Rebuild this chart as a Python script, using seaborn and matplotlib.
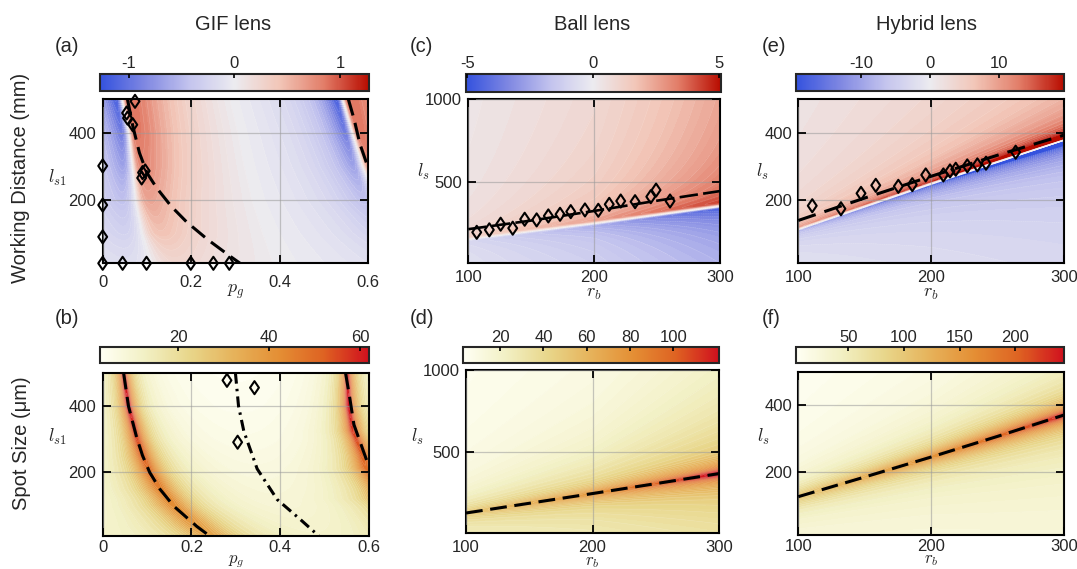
import numpy as np
import matplotlib
matplotlib.use("Agg")
import matplotlib.pyplot as plt
import seaborn as sns
from matplotlib.colors import LinearSegmentedColormap, Normalize
from matplotlib.cm import ScalarMappable
from matplotlib.path import Path

# ---------------- text ----------------
titles = ["GIF lens", "Ball lens", "Hybrid lens"]
row_labels = ["Working Distance (mm)", "Spot Size (μm)"]
panel_tags = ["(a)", "(b)", "(c)", "(d)", "(e)", "(f)"]

# ---------------- (a) GIF lens, working distance ----------------
a_dash1_x = [0.056, 0.068, 0.083, 0.100, 0.122, 0.155, 0.190, 0.238, 0.288, 0.321]
a_dash1_y = [500, 420, 340, 280, 235, 180, 133, 80, 31, 0]
a_dash2_x = [0.555, 0.568, 0.581, 0.600]
a_dash2_y = [500, 440, 367, 294]
a_diam_x = [0.073, 0.054, 0.056, 0.068, 0.090, 0.096, 0.088, 0, 0, 0,
            0, 0.045, 0.099, 0.199, 0.250, 0.286]
a_diam_y = [494, 459, 444, 424, 281, 286, 265, 301, 184, 89,
            10, 10, 10, 10, 10, 10]
a_field_y = [10, 100, 200, 300, 400, 500]
a_jump1 = [0.11, 0.09, 0.075, 0.068, 0.060, 0.045]
a_jump2 = [0.70, 0.66, 0.62, 0.588, 0.565, 0.543]
a_amp_pos = [0.18, 0.24, 0.29, 0.34, 0.37, 0.40]
a_amp_neg = [0.11, 0.14, 0.17, 0.19, 0.21, 0.23]
a_soft = [0.25, 0.12, 0.07, 0.04, 0.025, 0.02]

# ---------------- (b) GIF lens, spot size ----------------
b_dash1_x = [0.047, 0.058, 0.077, 0.090, 0.106, 0.129, 0.160, 0.212, 0.250]
b_dash1_y = [500, 400, 303, 250, 200, 150, 99, 38, 0]
b_dash2_x = [0.547, 0.556, 0.566, 0.596, 0.600]
b_dash2_y = [500, 430, 344, 232, 222]
b_dot_x = [0.299, 0.306, 0.318, 0.348, 0.393, 0.446, 0.487]
b_dot_y = [500, 400, 324, 211, 119, 58, 9]
b_diam_x = [0.280, 0.342, 0.304]
b_diam_y = [477, 455, 291]
b_field_y = [10, 100, 200, 300, 400, 500]
b_floor = [12, 9.5, 7.5, 5.5, 4.2, 3.4]
b_peak = [36, 42, 48, 55, 62, 60]

# ---------------- (c) Ball lens, working distance ----------------
c_line_rb = [100, 150, 200, 250, 300]
c_line_ls = [216, 268, 326, 388, 446]
c_diam_rb = [106.7, 116.7, 125.7, 135.3, 144.8, 154.3, 163.6, 172.9, 181.4,
             192.7, 203.3, 212.0, 221.1, 232.5, 245.0, 249.2, 260.3]
c_diam_ls = [197, 212, 246, 222, 276, 272, 296, 306, 322,
             332, 330, 366, 386, 382, 412, 452, 386]
c_field_rb = [100, 200, 300]
c_zero = [157, 252, 356]
c_amp_pos = [0.7, 1.7, 3.5]
c_decay_pos = [0.4, 0.32, 0.2]
c_amp_neg = [0.6, 1.6, 3.2]
c_decay_neg = [0.3, 0.3, 0.3]

# ---------------- (d) Ball lens, spot size ----------------
d_line_rb = [100, 150, 200, 250, 300]
d_line_ls = [133, 192, 251, 311, 372]
d_field_rb = [100, 200, 300]
d_peak = [28, 52, 96]
d_width = [30, 30, 30]
d_tail = [17, 21, 26]
d_tail_up = [100, 200, 420]
d_tail_dn = [500, 600, 700]

# ---------------- (e) Hybrid lens, working distance ----------------
e_line_rb = [100, 150, 200, 250, 300]
e_line_ls = [138, 205, 270, 333, 393]
e_diam_rb = [110.5, 132.1, 147.2, 158.3, 175.3, 185.8, 195.9, 209.2, 214.2,
             218.5, 227.2, 234.8, 241.3, 263.6]
e_diam_ls = [182, 173, 219, 243, 240, 245, 274, 274, 286,
             291, 301, 304, 309, 342]
e_field_rb = [100, 200, 300]
e_zero = [112, 248, 378]
e_amp_pos = [3.2, 6.0, 9.0]
e_decay_pos = [0.5, 0.5, 0.5]
e_amp_neg = [2.0, 4.5, 7.2]
e_decay_neg = [0.61, 0.61, 0.61]

# ---------------- (f) Hybrid lens, spot size ----------------
f_line_rb = [100, 150, 200, 250, 300]
f_line_ls = [125, 184, 244, 306, 370]
f_field_rb = [100, 200, 300]
f_peak = [85, 140, 215]
f_width = [20, 20, 19]
f_tail = [12, 14, 18]
f_tail_up = [50, 120, 280]
f_tail_dn = [400, 400, 400]

# colour-bar ranges and ticks
cb_range = {"a": (-1.27, 1.27), "b": (2.8, 62), "c": (-5.05, 5.05),
            "d": (3, 121), "e": (-19.6, 19.6), "f": (2.7, 244)}
cb_ticks = {"a": [-1, 0, 1], "b": [20, 40, 60], "c": [-5, 0, 5],
            "d": [20, 40, 60, 80, 100], "e": [-10, 0, 10], "f": [50, 100, 150, 200]}

# ---------------- style ----------------
sns.set_theme(style="ticks")
plt.rcParams["font.family"] = ["Liberation Sans", "DejaVu Sans"]
plt.rcParams["mathtext.fontset"] = "cm"
plt.rcParams["axes.axisbelow"] = False
plt.rcParams["axes.unicode_minus"] = False

div_cmap = LinearSegmentedColormap.from_list(
    "div", ["#3452de", "#8088e2", "#c4c4ee", "#ecebf0", "#f2c6b8", "#e27d68", "#b80c00"])
seq_cmap = LinearSegmentedColormap.from_list(
    "seq", ["#fffff4", "#f2f0c4", "#e8d68a", "#e6b25a", "#e48e34", "#de6222", "#d0101e"])

W, H = 1077, 569
fig = plt.figure(figsize=(W / 100, H / 100), dpi=100)


def fr(x0, y0, x1, y1):
    return [x0 / W, 1 - y1 / H, (x1 - x0) / W, (y1 - y0) / H]


ax_box = {"a": fr(102.7, 99.3, 368.3, 263.3), "b": fr(102.7, 372.7, 369, 535.7),
          "c": fr(468.3, 99.3, 720, 263.3), "d": fr(466, 370, 719, 533.3),
          "e": fr(798.3, 99.3, 1064, 263.3), "f": fr(798.3, 371.7, 1064, 535)}
cb_box = {"a": fr(100, 74, 369, 90.7), "b": fr(100, 347.3, 369, 363.3),
          "c": fr(466, 74, 720.7, 91.7), "d": fr(463.3, 347.3, 719, 363.3),
          "e": fr(795.7, 74, 1064.3, 91), "f": fr(795.7, 347.3, 1064.3, 363.3)}
xpad = {"a": 8.5, "b": 3.2, "c": 5.0, "d": 5.0, "e": 4.5, "f": 2.6}
xlab_y = {"a": -0.12, "b": -0.106, "c": -0.135, "d": -0.132, "e": -0.135, "f": -0.112}
xlab_fs = {"a": 13, "b": 12, "c": 13, "d": 12, "e": 13, "f": 12}
ylab_pos = {"a": (-0.172, 0.52), "b": (-0.172, 0.605), "c": (-0.179, 0.557),
            "d": (-0.194, 0.59), "e": (-0.137, 0.557), "f": (-0.133, 0.60)}

diamond = Path([(0, 1), (0.68, 0), (0, -1), (-0.68, 0), (0, 1)],
               [Path.MOVETO, Path.LINETO, Path.LINETO, Path.LINETO, Path.CLOSEPOLY])

axes = {k: fig.add_axes(v) for k, v in ax_box.items()}


def contour(ax, key, X, Y, Z, cmap):
    lo, hi = cb_range[key]
    lv = np.linspace(lo, hi, 72)
    ax.contourf(X, Y, Z, levels=lv, cmap=cmap, extend="both", zorder=0)
    ax.contour(X, Y, Z, levels=lv[::2], colors="white", linewidths=0.3, alpha=0.3, zorder=0.2)
    cax = fig.add_axes(cb_box[key])
    cb = fig.colorbar(ScalarMappable(Normalize(lo, hi), cmap), cax=cax,
                      orientation="horizontal", ticklocation="top")
    cb.set_ticks(cb_ticks[key])
    cb.ax.tick_params(direction="in", length=3, width=1.2, labelsize=12, pad=2, color="black")
    cb.outline.set_linewidth(1.5)


def smooth_pow(d, amp_p, amp_n, pp, pn, delta):
    ds = np.sqrt(d ** 2 + delta ** 2)
    pos = amp_p * (ds / 100.0) ** (-pp)
    neg = amp_n * (ds / 100.0) ** (-pn)
    return np.where(d >= 0, pos, neg) * d / ds


def lerp(v, xp, fp):
    return np.interp(v, xp, fp)


# ---- (a)
X, Y = np.meshgrid(np.linspace(0, 0.6, 400), np.linspace(10, 500, 300))
j1 = lerp(Y, a_field_y, a_jump1)
j2 = lerp(Y, a_field_y, a_jump2)
u = ((X - j1) / (j2 - j1)) % 1.0
th = 2 * np.pi * u
core = np.sin(th) / (1 - np.cos(th) + lerp(Y, a_field_y, a_soft))
Z = np.where(core > 0, lerp(Y, a_field_y, a_amp_pos) * core, lerp(Y, a_field_y, a_amp_neg) * core)
Z = np.where(Z > 0, 0.9 * np.tanh(Z / 0.9), Z)
contour(axes["a"], "a", X, Y, Z, div_cmap)

# ---- (b)
x1 = lerp(Y, b_dash1_y[::-1], b_dash1_x[::-1])
xm = lerp(Y, b_dot_y[::-1], b_dot_x[::-1])
u = (X - x1) / (2 * (xm - x1))
fl = lerp(Y, b_field_y, b_floor)
ee = fl / lerp(Y, b_field_y, b_peak)
Z = fl / np.sqrt(np.sin(np.pi * u) ** 2 + ee ** 2)
contour(axes["b"], "b", X, Y, Z, seq_cmap)

# ---- (c)
R, L = np.meshgrid(np.linspace(100, 300, 300), np.linspace(10, 1000, 400))
d = L - lerp(R, c_field_rb, c_zero)
Z = smooth_pow(d, lerp(R, c_field_rb, c_amp_pos), lerp(R, c_field_rb, c_amp_neg),
               lerp(R, c_field_rb, c_decay_pos), lerp(R, c_field_rb, c_decay_neg), 10)
contour(axes["c"], "c", R, L, Z, div_cmap)

# ---- (d)
d = L - lerp(R, d_line_rb, d_line_ls)
w2 = np.where(d >= 0, lerp(R, d_field_rb, d_tail_up), lerp(R, d_field_rb, d_tail_dn))
Z = (3 + lerp(R, d_field_rb, d_peak) / np.sqrt(1 + (d / lerp(R, d_field_rb, d_width)) ** 2)
     + lerp(R, d_field_rb, d_tail) / np.sqrt(1 + (d / w2) ** 2))
contour(axes["d"], "d", R, L, Z, seq_cmap)

# ---- (e)
R2, L2 = np.meshgrid(np.linspace(100, 300, 300), np.linspace(10, 500, 300))
d = L2 - lerp(R2, e_field_rb, e_zero)
Z = smooth_pow(d, lerp(R2, e_field_rb, e_amp_pos), lerp(R2, e_field_rb, e_amp_neg),
               lerp(R2, e_field_rb, e_decay_pos), lerp(R2, e_field_rb, e_decay_neg), 4)
contour(axes["e"], "e", R2, L2, Z, div_cmap)

# ---- (f)
d = L2 - lerp(R2, f_line_rb, f_line_ls)
w2 = np.where(d >= 0, lerp(R2, f_field_rb, f_tail_up), lerp(R2, f_field_rb, f_tail_dn))
Z = (1 + lerp(R2, f_field_rb, f_peak) / np.sqrt(1 + (d / lerp(R2, f_field_rb, f_width)) ** 2)
     + lerp(R2, f_field_rb, f_tail) / np.sqrt(1 + (d / w2) ** 2))
contour(axes["f"], "f", R2, L2, Z, seq_cmap)

# ---------------- lines and markers ----------------
LW = 2.2
dash = (0, (5.5, 2.5))


def line(ax, xs, ys, ls=dash, lw=LW):
    sns.lineplot(x=xs, y=ys, ax=ax, sort=False, estimator=None, color="black",
                 lw=lw, ls=ls, zorder=3)


def diamonds(ax, xs, ys):
    sns.scatterplot(x=xs, y=ys, ax=ax, marker=diamond, s=88, facecolors="none",
                    edgecolor="black", linewidth=1.5, zorder=4, clip_on=False)


line(axes["a"], a_dash1_x, a_dash1_y)
line(axes["a"], a_dash2_x, a_dash2_y)
diamonds(axes["a"], a_diam_x, a_diam_y)

line(axes["b"], b_dash1_x, b_dash1_y)
line(axes["b"], b_dash2_x, b_dash2_y)
line(axes["b"], b_dot_x, b_dot_y, ls=(0, (3.6, 1.7, 0.8, 1.7)))
diamonds(axes["b"], b_diam_x, b_diam_y)

line(axes["c"], c_line_rb, c_line_ls, ls=(0, (7, 2)), lw=1.9)
diamonds(axes["c"], c_diam_rb, c_diam_ls)

line(axes["d"], d_line_rb, d_line_ls)

line(axes["e"], e_line_rb, e_line_ls, ls=(0, (6, 3)))
diamonds(axes["e"], e_diam_rb, e_diam_ls)

line(axes["f"], f_line_rb, f_line_ls)

# ---------------- axes styling ----------------
for key, ax in axes.items():
    if key in "ab":
        ax.set_xlim(0, 0.6)
        ax.set_xticks([0, 0.2, 0.4, 0.6])
        ax.set_xticklabels(["0", "0.2", "0.4", "0.6"])
        ax.set_xlabel(r"$p_g$", fontsize=xlab_fs[key])
        ax.set_ylabel(r"$l_{s1}$", fontsize=13, rotation=0, ha="center", va="center")
    else:
        ax.set_xlim(100, 300)
        ax.set_xticks([100, 200, 300])
        ax.set_xlabel(r"$r_b$", fontsize=xlab_fs[key])
        ax.set_ylabel(r"$l_s$", fontsize=13, rotation=0, ha="center", va="center")
    if key in "cd":
        ax.set_ylim(10, 1000)
        ax.set_yticks([500, 1000])
    else:
        ax.set_ylim(10, 500)
        ax.set_yticks([200, 400])
    ax.xaxis.set_label_coords(0.5, xlab_y[key])
    ax.yaxis.set_label_coords(*ylab_pos[key])
    ax.tick_params(direction="in", length=6, width=1.3, top=True, right=True,
                   labelsize=12, color="black")
    ax.tick_params(axis="x", pad=xpad[key])
    ax.tick_params(axis="y", pad=4.5)
    ax.grid(True, color="#9a9a9a", lw=0.9, alpha=0.55)
    for s in ax.spines.values():
        s.set_linewidth(1.5)
        s.set_color("black")

# ---------------- figure text ----------------
for t, xc in zip(titles, [233, 592, 927]):
    fig.text(xc / W, 1 - 24 / H, t, ha="center", va="center", fontsize=14.5)
tag_pos = [(67, 46), (67, 318), (421, 46), (422, 318), (774, 46), (771, 318)]
for t, (px, py) in zip(panel_tags, tag_pos):
    fig.text(px / W, 1 - py / H, t, ha="center", va="center", fontsize=14.5)
fig.text(21 / W, 1 - 178 / H, row_labels[0], rotation=90, ha="center", va="center", fontsize=14.5)
fig.text(22 / W, 1 - 443 / H, row_labels[1], rotation=90, ha="center", va="center", fontsize=14.5)

fig.savefig("out.png", dpi=100)
